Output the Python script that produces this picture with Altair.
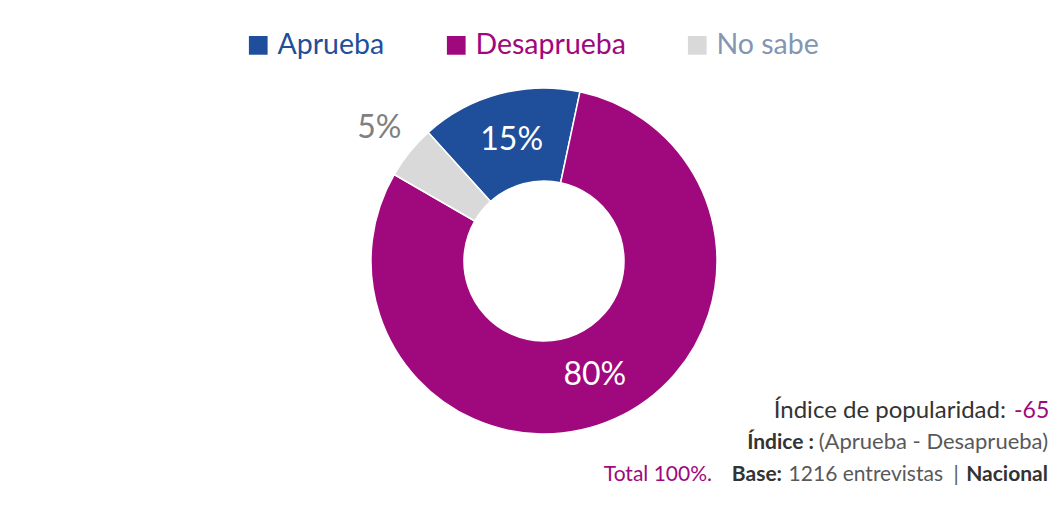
import math
import altair as alt
import pandas as pd

# ---- data ----
categories = ["Aprueba", "Desaprueba", "No sabe"]
values = [15, 80, 5]
labels = ["15%", "80%", "5%"]
colors = ["#1F4E9B", "#A0087E", "#D9D9D9"]
legend_label_colors = ["#1F4E9B", "#A0087E", "#8496B0"]

line1 = ["Índice de popularidad:", "-65"]
line2 = ["Índice :", "(Aprueba - Desaprueba)"]
line3 = ["Total 100%.", "Base:", "1216 entrevistas", "|", "Nacional"]

df = pd.DataFrame({"cat": categories, "value": values, "label": labels,
                   "idx": list(range(len(categories)))})

FONT = "Lato"
CX, CY = 536, 253
start = math.radians(-42)

theta = alt.Theta("value:Q", stack=True,
                  scale=alt.Scale(range=[start, start + 2 * math.pi]))

label_expr = " : ".join(
    f"datum.label == '{c}' ? '{col}'" for c, col in zip(categories[:-1], legend_label_colors[:-1])
) + f" : '{legend_label_colors[-1]}'"

base = alt.Chart(df)

arcs = base.mark_arc(outerRadius=173, innerRadius=80, stroke="white", strokeWidth=1.5).encode(
    theta=theta,
    color=alt.Color("cat:N", sort=categories,
                    scale=alt.Scale(domain=categories, range=colors),
                    legend=alt.Legend(
                        title=None, orient="none", direction="horizontal",
                        legendX=236, legendY=23,
                        symbolType="square", symbolSize=350, symbolStrokeWidth=0,
                        labelFont=FONT, labelFontSize=28.5,
                        labelColor={"expr": label_expr},
                        labelOffset=5, columnPadding=57, labelLimit=400,
                    )),
    order=alt.Order("idx:Q"),
    x=alt.value(CX), y=alt.value(CY),
)

inner_text = base.transform_calculate(
    t="datum.cat == 'No sabe' ? '' : datum.label"
).mark_text(radius=125, font=FONT, fontSize=32, color="white",
            align="center", baseline="middle").encode(
    theta=theta, detail="cat:N", order=alt.Order("idx:Q"),
    text="t:N", x=alt.value(CX), y=alt.value(CY),
)

outer_text = base.transform_calculate(
    t="datum.cat == 'No sabe' ? datum.label : ''"
).mark_text(radius=212, font=FONT, fontSize=32, color="#808080",
            align="center", baseline="middle").encode(
    theta=theta, detail="cat:N", order=alt.Order("idx:Q"),
    text="t:N", x=alt.value(CX), y=alt.value(CY),
)


def note(text, x, y, size, color, weight="normal", align="right"):
    return alt.Chart(pd.DataFrame({"t": [text]})).mark_text(
        font=FONT, fontSize=size, color=color, fontWeight=weight,
        align=align, baseline="alphabetic",
    ).encode(text="t:N", x=alt.value(x), y=alt.value(y))


DARK = "#333333"
GRAY = "#595959"
MAG = "#A0087E"

notes = [
    note(line1[0], 998, 410, 24, DARK),
    note(line1[1], 1006, 410, 23, MAG, align="left"),
    note(line2[0], 806, 441, 21, DARK, "bold"),
    note(line2[1], 1040, 441, 22, GRAY),
    note(line3[0], 704, 473, 21, MAG),
    note(line3[1], 774, 473, 21, DARK, "bold"),
    note(line3[2], 935, 473, 21, GRAY),
    note(line3[3], 948, 473, 21, GRAY, align="center"),
    note(line3[4], 1040, 473, 21, DARK, "bold"),
]

chart = alt.layer(arcs, inner_text, outer_text, *notes).properties(
    width=1046, height=495, padding=0,
    autosize=alt.AutoSizeParams(type="none"),
    background="white",
).configure_view(stroke=None)

chart.save("out.html", embed_options={"renderer": "svg", "actions": False})
